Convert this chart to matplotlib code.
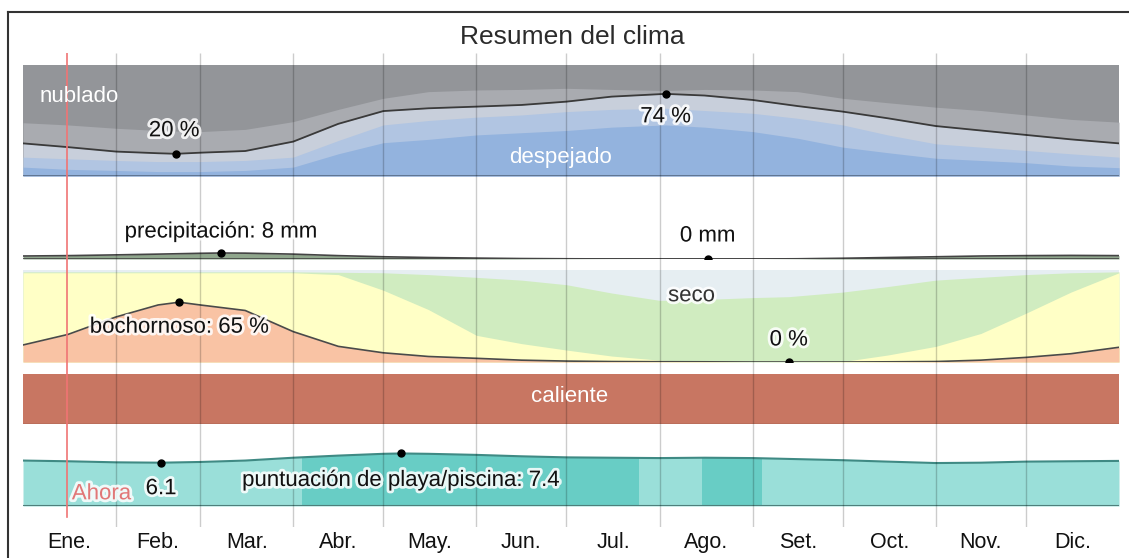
import matplotlib
matplotlib.use('Agg')
import matplotlib.pyplot as plt
import matplotlib.patheffects as pe
from matplotlib import font_manager
from matplotlib.lines import Line2D

# --- data ---
month_labels = ['Ene.', 'Feb.', 'Mar.', 'Abr.', 'May.', 'Jun.',
                'Jul.', 'Ago.', 'Set.', 'Oct.', 'Nov.', 'Dic.']
month_starts = [0, 31, 59, 90, 120, 151, 181, 212, 243, 273, 304, 334, 365]
now_day = 14.6

# cloud cover (% of time, cumulative from clear upward)
cloud_days = [0, 15, 31, 45, 51, 59, 74, 90, 105, 120, 135, 151, 166, 181, 196, 214,
              227, 243, 258, 273, 288, 304, 319, 334, 349, 365]
clear_top = [8, 6, 5, 4, 4, 4, 5, 8, 20, 30, 33, 37, 39, 41, 44, 46,
             44, 40, 34, 26, 21, 16, 14, 12, 9, 7.5]
mostly_clear_top = [17, 15.5, 14, 13, 13, 13, 14, 17, 32, 46, 50, 53, 55, 58, 60, 61,
                    59, 56.5, 52, 46, 37, 29, 26, 23, 20, 17]
partly_cloudy_top = [29.4, 26, 22, 20.5, 20, 21, 22.5, 31, 47, 58.5, 61, 62.5, 64, 67, 71.5, 74,
                     72.5, 68.5, 63, 58, 52, 45, 41, 37, 33, 29.4]
mostly_cloudy_top = [48, 46, 43, 41, 40.5, 40, 42, 49, 60, 70, 76, 77.5, 78, 79, 78, 77,
                     78, 77.5, 76, 70, 66, 62, 59, 55, 51, 48.5]
cloud_min = (51, 20)
cloud_max = (214, 74)

# precipitation (mm)
rain_days = [0, 15, 31, 45, 59, 66, 74, 90, 105, 120, 135, 151, 166, 181, 196, 212,
             228, 243, 258, 273, 288, 304, 319, 334, 349, 365]
rain_mm = [4, 4.5, 5.5, 6.5, 7.6, 8, 7.8, 6.5, 4.5, 3, 2, 1.2, 0.6, 0.3, 0.1, 0,
           0, 0, 0.3, 1, 2, 3, 4, 4.5, 4.8, 4.5]
rain_max = (66, 8)
rain_min = (228, 0)

# humidity comfort (% of time, cumulative)
hum_days = [0, 15, 31, 45, 52, 59, 74, 90, 105, 120, 135, 151, 166, 181, 196, 212,
            227, 243, 255, 273, 288, 304, 319, 334, 349, 365]
muggy = [18.5, 30, 49, 62, 65, 62, 56, 33, 17, 10, 6, 4, 2, 1, 0.5, 0.3,
         0.2, 0, 0, 0, 0.2, 0.5, 2, 5, 9, 16]
humid_top = [97, 97, 97, 97, 97, 97, 97, 97, 95, 78, 57, 29, 20, 13, 6.5, 2,
             0.5, 0, 0, 0.5, 7.6, 17, 31, 53, 76, 97]
comfort_top = [98, 98, 98, 98, 98, 98, 98, 98, 97.5, 97, 95, 92, 89, 84, 75, 67,
               68, 70, 71, 76, 82, 89, 92, 95, 97, 98]
muggy_max = (52, 65)
muggy_min = (255, 0)

# temperature band
hot_span = [0, 365]

# beach / pool score
beach_days = [0, 15, 31, 46, 59, 74, 90, 105, 120, 126, 135, 151, 166, 181, 196, 212,
              227, 243, 258, 273, 288, 304, 319, 334, 349, 365]
beach_score = [6.4, 6.3, 6.15, 6.1, 6.2, 6.4, 6.8, 7.1, 7.35, 7.4, 7.35, 7.2, 7.0, 6.85, 6.8, 6.75,
               6.8, 6.75, 6.6, 6.45, 6.25, 6.05, 6.1, 6.25, 6.3, 6.35]
beach_best = [(93, 205), (226, 246)]
beach_min = (46, 6.1)
beach_max = (126, 7.4)

# --- fonts ---
names = {f.name for f in font_manager.fontManager.ttflist}
if 'Liberation Sans Narrow' in names:
    FONT, FS = 'Liberation Sans Narrow', 18.5
else:
    FONT, FS = 'Liberation Sans', 16
plt.rcParams['font.family'] = [FONT, 'DejaVu Sans']

W, H = 1129, 558
X0, X1 = 23, 1119

fig = plt.figure(figsize=(W / 100, H / 100), dpi=100)
fig.patch.set_facecolor('white')


def add_panel(top, bottom, z=1):
    ax = fig.add_axes([X0 / W, 1 - bottom / H, (X1 - X0) / W, (bottom - top) / H], zorder=z)
    ax.set_xlim(0, 365)
    ax.set_axis_off()
    return ax


halo = [pe.withStroke(linewidth=4, foreground='white', alpha=0.85)]

# cloud panel
ax_c = add_panel(65, 176)
ax_c.set_ylim(0, 100)
ax_c.fill_between(cloud_days, 0, 100, color='#939599', lw=0)
ax_c.fill_between(cloud_days, 0, mostly_cloudy_top, color='#a9abb0', lw=0)
ax_c.fill_between(cloud_days, 0, partly_cloudy_top, color='#c8cfdb', lw=0)
ax_c.fill_between(cloud_days, 0, mostly_clear_top, color='#b1c5e2', lw=0)
ax_c.fill_between(cloud_days, 0, clear_top, color='#93b3de', lw=0)
ax_c.plot(cloud_days, partly_cloudy_top, color='#3a3a3a', lw=1.3)
ax_c.axhline(0, color='#5a6f8a', lw=2)
ax_c.plot(*cloud_min, 'o', color='black', ms=5)
ax_c.plot(*cloud_max, 'o', color='black', ms=5)

# precipitation panel
ax_p = add_panel(214, 259)
ax_p.set_ylim(0, 60)
ax_p.fill_between(rain_days, 0, rain_mm, color='#8fa68c', lw=0)
ax_p.plot(rain_days, rain_mm, color='#444444', lw=1.2)
ax_p.axhline(0, color='#444444', lw=1.2)
ax_p.plot(*rain_max, 'o', color='black', ms=5)
ax_p.plot(*rain_min, 'o', color='black', ms=5)

# humidity panel
ax_h = add_panel(270, 362)
ax_h.set_ylim(0, 100)
ax_h.fill_between(hum_days, 0, 100, color='#e6eef2', lw=0)
ax_h.fill_between(hum_days, 0, comfort_top, color='#d0ecc0', lw=0)
ax_h.fill_between(hum_days, 0, humid_top, color='#ffffc6', lw=0)
ax_h.fill_between(hum_days, 0, muggy, color='#f9c3a4', lw=0)
ax_h.plot(hum_days, muggy, color='#4a4a4a', lw=1.2)
ax_h.plot(*muggy_max, 'o', color='black', ms=5)
ax_h.plot(*muggy_min, 'o', color='black', ms=5)

# temperature band
ax_t = add_panel(374, 424)
ax_t.set_ylim(0, 1)
ax_t.fill_between(hot_span, 0, 1, color='#c87662', lw=0)
ax_t.axhline(0, color='#8a5040', lw=1)

# beach / pool panel
ax_b = add_panel(435, 506)
ax_b.set_ylim(0, 10)
poly = ax_b.fill_between(beach_days, 0, beach_score, color='#9adfd9', lw=0)
for start, end in beach_best:
    span = ax_b.axvspan(start, end, color='#68cdc5', lw=0)
    span.set_clip_path(poly.get_paths()[0], poly.get_transform())
ax_b.plot(beach_days, beach_score, color='#3f8a84', lw=1.5)
ax_b.axhline(0, color='#4f7f7b', lw=1.5)
ax_b.plot(*beach_min, 'o', color='black', ms=5)
ax_b.plot(*beach_max, 'o', color='black', ms=5)

# overlay: grid lines, "now" line, all labels
ax_o = add_panel(53, 527, z=5)
ax_o.set_ylim(0, 1)
ax_o.vlines(month_starts[1:-1], 0, 1, color='black', alpha=0.2, lw=1)
ax_o.axvline(now_day, ymin=0.021, ymax=1, color='#f07474', lw=1.2)

for i, lab in enumerate(month_labels):
    mid = (month_starts[i] + month_starts[i + 1]) / 2
    ax_o.text(mid, -0.032, lab, ha='center', va='center', fontsize=FS - 0.5,
              color='#111111', clip_on=False)


def label(text, xy, coords, off=(0, 0), color='#111111', ha='center', fx=halo):
    ax_o.annotate(text, xy=xy, xycoords=coords, xytext=off, textcoords='offset pixels',
                  ha=ha, va='center', fontsize=FS, color=color, path_effects=fx,
                  annotation_clip=False)


label('nublado', (0.0155, 0.72), ax_c.transAxes, color='white', ha='left', fx=None)
label('despejado', (0.49, 0.17), ax_c.transAxes, color='white', fx=None)
label('20 %', cloud_min, ax_c.transData, off=(-2, 23))
label('74 %', cloud_max, ax_c.transData, off=(0, -23))
label('precipitación: 8 mm', rain_max, ax_p.transData, off=(0, 21))
label('0 mm', rain_min, ax_p.transData, off=(0, 23))
label('seco', (0.61, 0.72), ax_h.transAxes, color='#333333')
label('bochornoso: 65 %', muggy_max, ax_h.transData, off=(0, -25))
label('0 %', muggy_min, ax_h.transData, off=(0, 22))
label('caliente', (0.499, 0.55), ax_t.transAxes, color='white', fx=None)
label('6.1', beach_min, ax_b.transData, off=(0, -26))
label('puntuación de playa/piscina: 7.4', beach_max, ax_b.transData, off=(0, -27))
label('Ahora', (now_day, 0.07), ax_o.transData, off=(5, 0), color='#e07878', ha='left')

fig.text(572 / W, 1 - 37 / H, 'Resumen del clima', ha='center', va='center',
         fontsize=FS + 3, color='#2b2b2b')

# frame lines at left and top
fig.add_artist(Line2D([8 / W, 8 / W], [0, 1 - 12 / H], transform=fig.transFigure,
                      color='#333333', lw=1.5))
fig.add_artist(Line2D([8 / W, 1], [1 - 12 / H, 1 - 12 / H], transform=fig.transFigure,
                      color='#333333', lw=1.5))

fig.savefig('out.png', dpi=100)
